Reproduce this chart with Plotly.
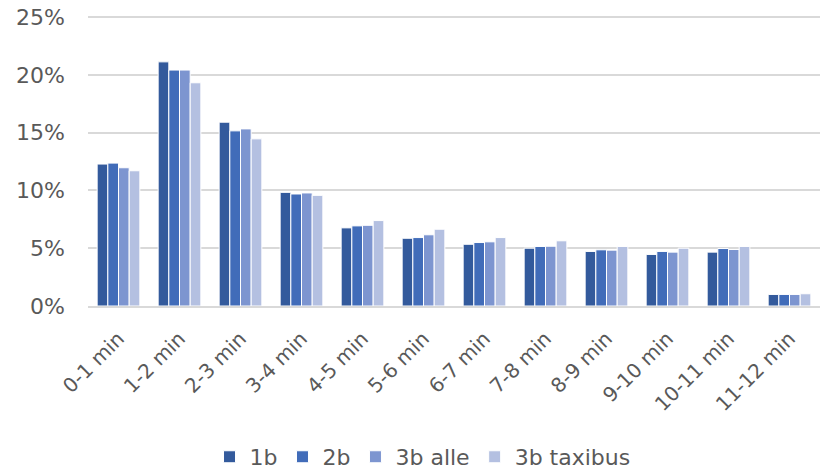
import plotly.graph_objects as go

categories = ["0-1 min", "1-2 min", "2-3 min", "3-4 min", "4-5 min", "5-6 min",
              "6-7 min", "7-8 min", "8-9 min", "9-10 min", "10-11 min", "11-12 min"]
s_1b = [12.28, 21.12, 15.90, 9.83, 6.76, 5.86, 5.34, 5.00, 4.72, 4.46, 4.66, 1.00]
s_2b = [12.36, 20.41, 15.15, 9.69, 6.93, 5.92, 5.49, 5.15, 4.86, 4.72, 4.97, 1.00]
s_3b_alle = [11.96, 20.41, 15.32, 9.78, 6.98, 6.16, 5.55, 5.17, 4.83, 4.66, 4.89, 1.00]
s_3b_taxibus = [11.70, 19.31, 14.46, 9.57, 7.39, 6.64, 5.92, 5.64, 5.15, 5.00, 5.15, 1.06]
y_ticks = [0, 0.05, 0.10, 0.15, 0.20, 0.25]
y_tick_labels = ["0%", "5%", "10%", "15%", "20%", "25%"]

series = [("1b", s_1b, "#335A9C"), ("2b", s_2b, "#416CB9"),
          ("3b alle", s_3b_alle, "#7D95D0"), ("3b taxibus", s_3b_taxibus, "#B4C0E1")]

fig = go.Figure()
for name, vals, color in series:
    fig.add_trace(go.Bar(
        x=categories, y=[v / 100 for v in vals], name=name,
        marker=dict(color=color, line=dict(color="white", width=1)),
    ))

font = "DejaVu Sans, Verdana, sans-serif"
fig.update_layout(
    width=825, height=470,
    margin=dict(l=88, r=5, t=14, b=164, autoexpand=False),
    paper_bgcolor="white", plot_bgcolor="white",
    barmode="group", bargap=0.3, bargroupgap=0,
    font=dict(family=font, color="#595959", size=20),
    showlegend=True,
    legend=dict(orientation="h", x=0.457, xanchor="center", y=-0.517, yanchor="middle",
                font=dict(size=22, color="#595959"), itemwidth=30, traceorder="normal"),
    xaxis=dict(tickangle=-45, showgrid=False, showline=True, linecolor="#D9D9D9", linewidth=2,
               ticks="", automargin=False, ticklabelstandoff=11,
               tickfont=dict(size=20, color="#595959")),
    yaxis=dict(range=[0, 0.2526], tickmode="array", tickvals=y_ticks, ticktext=y_tick_labels,
               showgrid=True, gridcolor="#D9D9D9", gridwidth=2, zeroline=False, ticks="",
               automargin=False, ticklabelstandoff=22, ticklabeloverflow="allow",
               tickfont=dict(size=22, color="#595959")),
)

fig.write_html("out.html", config={"displayModeBar": False},
               post_script="document.body.style.margin='0';document.body.style.overflow='hidden';")
